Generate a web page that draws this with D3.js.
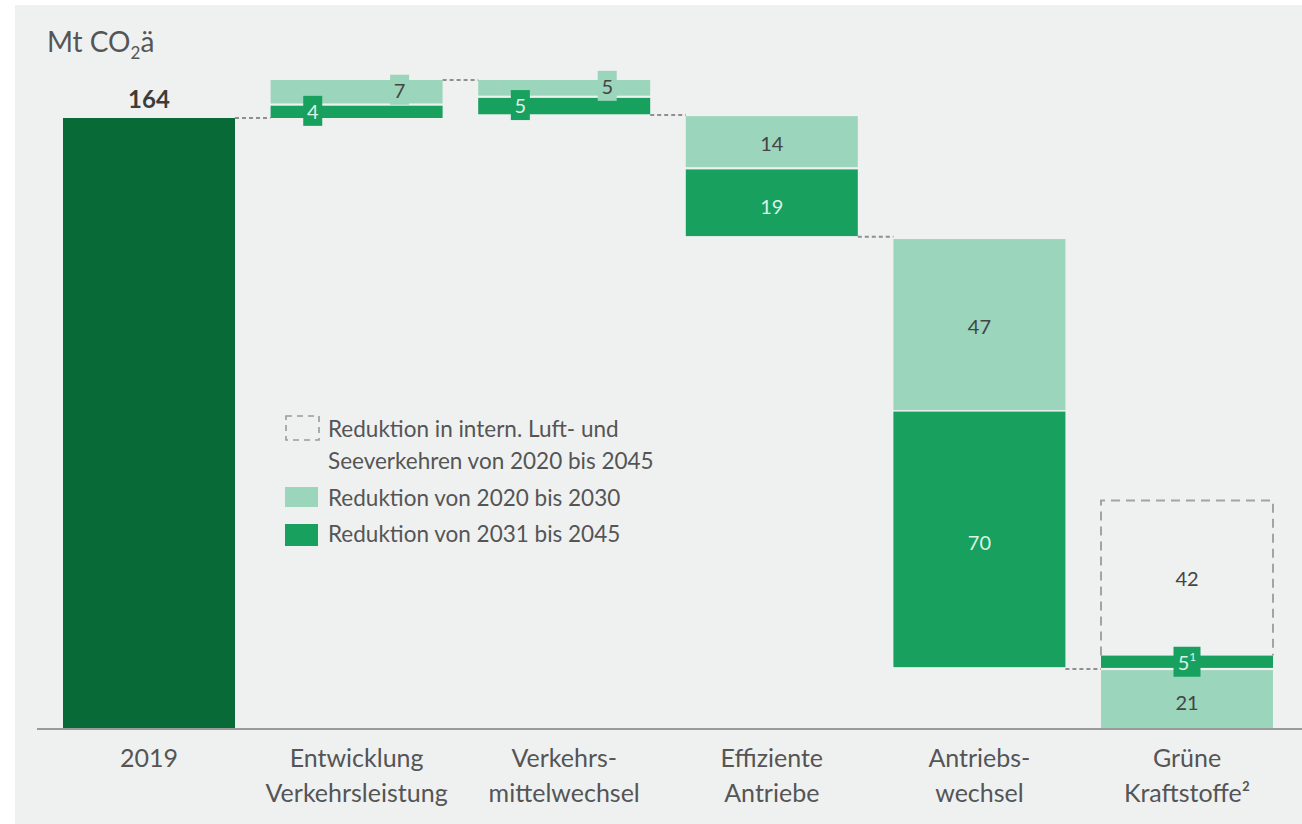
<!DOCTYPE html>
<html>
<head>
<meta charset="utf-8">
<script src="https://cdn.jsdelivr.net/npm/d3@7"></script>
<style>
  html, body { margin: 0; padding: 0; background: #ffffff; }
  svg { display: block; }
  text { font-family: Lato, "Noto Sans", sans-serif; }
</style>
</head>
<body>
<svg id="chart" width="1302" height="824"></svg>
<script>
// ---------- DATA (Mt CO2e) ----------
const categories = ["2019", "Entwicklung Verkehrsleistung", "Verkehrs-mittelwechsel",
                    "Effiziente Antriebe", "Antriebs-wechsel", "Grüne Kraftstoffe"];
const categoryLines = [["2019"], ["Entwicklung", "Verkehrsleistung"], ["Verkehrs-", "mittelwechsel"],
                       ["Effiziente", "Antriebe"], ["Antriebs-", "wechsel"], ["Grüne", "Kraftstoffe²"]];
// dark segment (2019 total / Reduktion 2031–2045): low and high ends
const darkLow   = [0,   164,   165,   132.3, 16.6, 16.4];
const darkHigh  = [164, 167.3, 169.4, 150.2, 85.2, 19.7];
const darkLabel = ["164", "4", "5", "19", "70", "5¹"];
// light segment (Reduktion 2020–2030)
const lightLow   = [null, 167.9, 170,   150.8, 85.6,  0];
const lightHigh  = [null, 174.2, 174.2, 164.5, 131.5, 15.8];
const lightLabel = [null, "7", "5", "14", "47", "21"];
// dashed segment (intern. Luft- und Seeverkehr 2020–2045)
const intlCategory = ["Grüne Kraftstoffe"];
const intlLow   = [19.7];
const intlHigh  = [61.3];
const intlLabel = ["42"];
// connector levels between neighbouring bars
const connectorFrom  = [0, 1, 2, 3, 4];
const connectorLevel = [164, 174.2, 164.8, 132.1, 16.1];
const legendLabels = [["Reduktion in intern. Luft- und", "Seeverkehren von 2020 bis 2045"],
                      ["Reduktion von 2020 bis 2030"], ["Reduktion von 2031 bis 2045"]];

// ---------- STYLE ----------
const C = {
  bg: "#eff1f1", base: "#086b37", dark: "#18a05f", light: "#9bd5bb",
  text: "#555555", darkText: "#444444", onDark: "#dcf2e6", axis: "#9a9a9a", dash: "#8f8f8f"
};

const svg = d3.select("#chart");
svg.append("rect").attr("x", 15).attr("y", 5).attr("width", 1302 - 15).attr("height", 824 - 5).attr("fill", C.bg);

const x = d3.scaleBand().domain(categories).range([63, 1273]).paddingInner(0.1715).paddingOuter(0);
const y = d3.scaleLinear().domain([0, 164]).range([729, 118]);
const bw = x.bandwidth();

// Title
const title = svg.append("text").attr("x", 47).attr("y", 52).attr("fill", C.text).attr("font-size", 28);
title.append("tspan").text("Mt CO");
title.append("tspan").attr("font-size", 17).attr("dy", 7).text("2");
title.append("tspan").attr("dy", -7).text("ä");

// Connectors
svg.append("g").selectAll("line").data(connectorFrom).join("line")
  .attr("x1", (d) => x(categories[d]) + bw)
  .attr("x2", (d) => x(categories[d + 1]))
  .attr("y1", (d, i) => y(connectorLevel[i]))
  .attr("y2", (d, i) => y(connectorLevel[i]))
  .attr("stroke", C.dash).attr("stroke-width", 2).attr("stroke-dasharray", "4,3");

// Dashed international box (top + sides)
intlCategory.forEach((c, i) => {
  const x0 = x(c), x1 = x(c) + bw, y0 = y(intlHigh[i]), y1 = y(intlLow[i]);
  svg.append("path")
    .attr("d", `M${x0},${y1}V${y0}H${x1}V${y1}`)
    .attr("fill", "none").attr("stroke", "#a3a3a3").attr("stroke-width", 2).attr("stroke-dasharray", "9,6");
  svg.append("text").attr("x", x0 + bw / 2).attr("y", (y0 + y1) / 2).attr("text-anchor", "middle")
    .attr("dominant-baseline", "central").attr("fill", C.darkText).attr("font-size", 20).text(intlLabel[i]);
});

// Bars
const gBars = svg.append("g");
categories.forEach((c, i) => {
  if (lightLow[i] !== null) {
    gBars.append("rect").attr("x", x(c)).attr("width", bw)
      .attr("y", y(lightHigh[i])).attr("height", y(lightLow[i]) - y(lightHigh[i])).attr("fill", C.light);
  }
  gBars.append("rect").attr("x", x(c)).attr("width", bw)
    .attr("y", y(darkHigh[i])).attr("height", y(darkLow[i]) - y(darkHigh[i]))
    .attr("fill", i === 0 ? C.base : C.dark);
});

// Labels
const gLab = svg.append("g").attr("font-size", 20);
function boxedLabel(cx, cy, txt, fill, color, w) {
  gLab.append("rect").attr("x", cx - w / 2).attr("y", cy - 15).attr("width", w).attr("height", 30).attr("fill", fill);
  gLab.append("text").attr("x", cx).attr("y", cy).attr("text-anchor", "middle").attr("dominant-baseline", "central")
    .attr("fill", color).text(txt);
}
categories.forEach((c, i) => {
  const cx = x(c) + bw / 2;
  if (i === 0) {
    svg.append("text").attr("x", cx).attr("y", y(darkHigh[i]) - 10).attr("text-anchor", "middle")
      .attr("font-weight", "bold").attr("font-size", 24).attr("fill", "#3c3c3c").text(darkLabel[i]);
    return;
  }
  const dMid = (y(darkHigh[i]) + y(darkLow[i])) / 2;
  const lMid = (y(lightHigh[i]) + y(lightLow[i])) / 2;
  if (i === 1 || i === 2) {
    boxedLabel(x(c) + bw * 0.245, dMid - 1, darkLabel[i], C.dark, C.onDark, 19);
    boxedLabel(x(c) + bw * 0.75, lMid - 2, lightLabel[i], C.light, C.darkText, 19);
  } else if (i === 5) {
    boxedLabel(cx, dMid, "", C.dark, C.onDark, 27);
    const t = gLab.append("text").attr("x", cx).attr("y", dMid).attr("text-anchor", "middle")
      .attr("dominant-baseline", "central").attr("fill", C.onDark);
    t.append("tspan").text("5");
    t.append("tspan").attr("font-size", 12).attr("dy", -6).text("1");
    gLab.append("text").attr("x", cx).attr("y", lMid + 2).attr("text-anchor", "middle").attr("dominant-baseline", "central")
      .attr("fill", C.darkText).text(lightLabel[i]);
  } else {
    gLab.append("text").attr("x", cx).attr("y", lMid + 1).attr("text-anchor", "middle").attr("dominant-baseline", "central")
      .attr("fill", C.darkText).text(lightLabel[i]);
    gLab.append("text").attr("x", cx).attr("y", dMid + 3).attr("text-anchor", "middle").attr("dominant-baseline", "central")
      .attr("fill", C.onDark).text(darkLabel[i]);
  }
});

// X axis
svg.append("line").attr("x1", 37).attr("x2", 1302).attr("y1", y(0)).attr("y2", y(0))
  .attr("stroke", C.axis).attr("stroke-width", 2);
const ax = svg.append("g").attr("transform", `translate(0,${y(0)})`)
  .call(d3.axisBottom(x).tickSize(0).tickFormat(""));
ax.select(".domain").remove();
ax.selectAll(".tick").each(function (d, i) {
  const t = d3.select(this).append("text").attr("text-anchor", "middle").attr("fill", C.text)
    .attr("font-size", 25).attr("y", 38);
  categoryLines[i].forEach((line, k) => {
    t.append("tspan").attr("x", 0).attr("dy", k === 0 ? 0 : 35).text(line);
  });
});

// Legend
const lg = svg.append("g").attr("font-size", 22.5).attr("fill", C.text);
lg.append("rect").attr("x", 286).attr("y", 416).attr("width", 33).attr("height", 24)
  .attr("fill", "none").attr("stroke", "#9a9a9a").attr("stroke-width", 1.6).attr("stroke-dasharray", "6,5");
lg.append("rect").attr("x", 285).attr("y", 487).attr("width", 33).attr("height", 20).attr("fill", C.light);
lg.append("rect").attr("x", 285).attr("y", 524).attr("width", 33).attr("height", 22).attr("fill", C.dark);
const legendBaselines = [[437, 469], [506], [542]];
legendLabels.forEach((lines, i) => {
  lines.forEach((line, k) => {
    lg.append("text").attr("x", 328).attr("y", legendBaselines[i][k]).attr("fill", C.text).text(line);
  });
});
</script>
</body>
</html>
